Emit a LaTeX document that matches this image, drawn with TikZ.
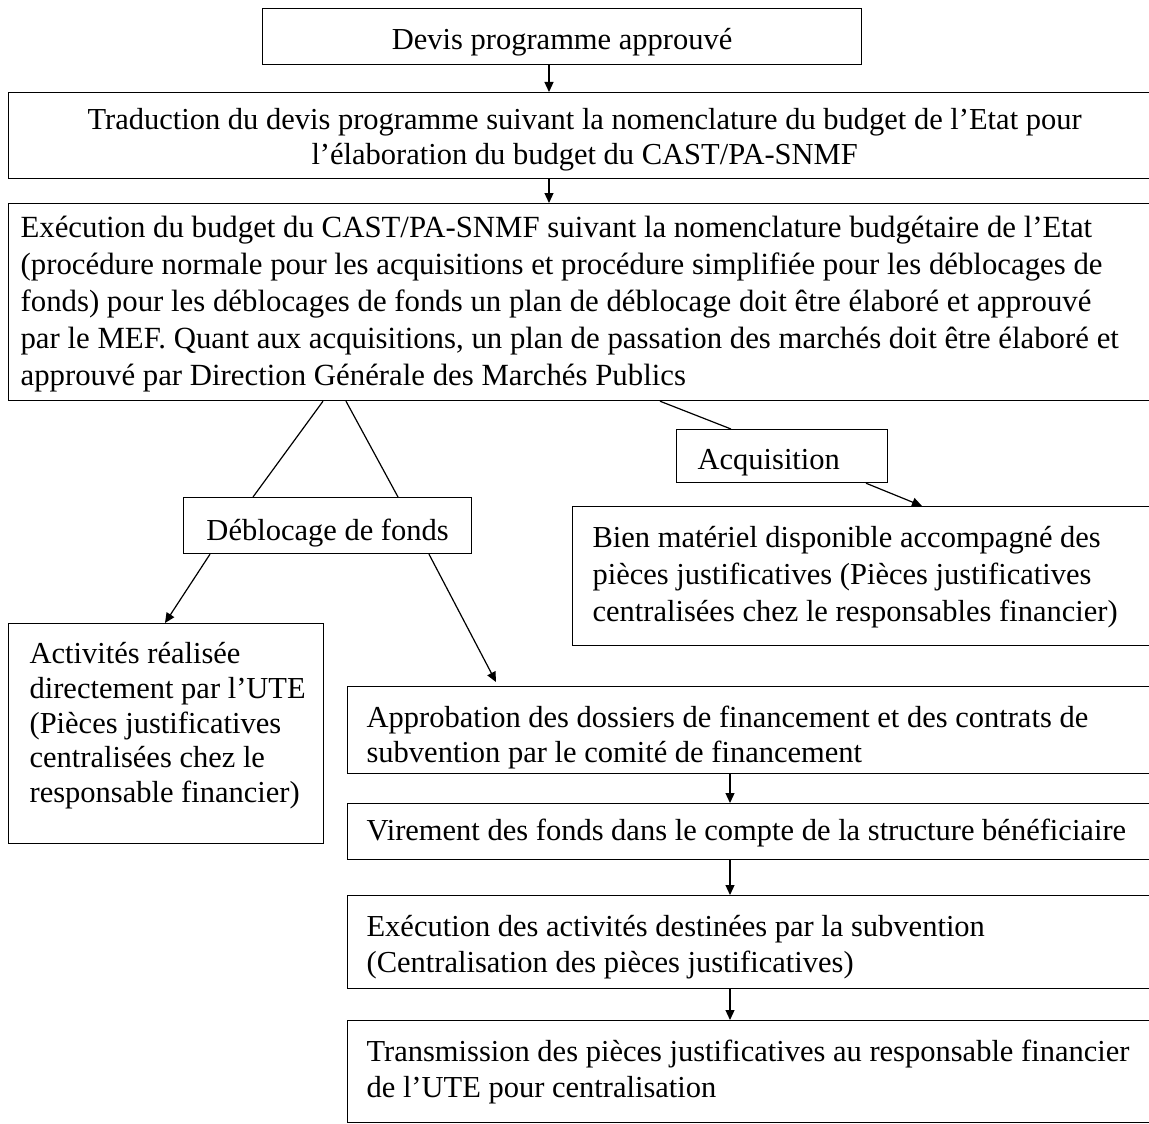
\documentclass[tikz,border=0pt]{standalone}
\usepackage{fontspec}
\setmainfont{Liberation Serif}
\usetikzlibrary{arrows.meta}
\begin{document}
\begin{tikzpicture}[x=1pt,y=-1pt,
  box/.style={draw, line width=1.2pt, inner xsep=0pt, inner ysep=0pt, anchor=north west,
    align=flush left, font=\fontsize{30.5}{36}\selectfont},
  arr/.style={line width=1.2pt, -{Triangle[length=10pt,width=9pt]}},
  link/.style={line width=1.2pt}]
\useasboundingbox (0,0) rectangle (1149,1124);
\clip (0,0) rectangle (1149,1124);
\fill[white] (0,0) rectangle (1149,1124);

\node[box, minimum width=599pt, minimum height=56pt, align=center,
      text height=26pt, text depth=0pt] (b1) at (262,8)
  {Devis programme approuvé};
\node[box, minimum height=86pt, text width=1152pt, align=flush center,
      font=\fontsize{30.5}{35}\selectfont, text height=0pt, text depth=12pt] (b2) at (8,92)
  {Traduction du devis programme suivant la nomenclature du budget de l’Etat pour\\
   l’élaboration du budget du CAST/PA-SNMF};
\node[box, minimum height=197pt, text width=1200pt, inner xsep=12pt,
      font=\fontsize{30.8}{37}\selectfont, text height=0pt, text depth=129pt] (b3) at (8,203)
  {Exécution du budget du CAST/PA-SNMF suivant la nomenclature budgétaire de l’Etat\\
   (procédure normale pour les acquisitions et procédure simplifiée pour les déblocages de\\
   fonds) pour les déblocages de fonds un plan de déblocage doit être élaboré et approuvé\\
   par le MEF. Quant aux acquisitions, un plan de passation des marchés doit être élaboré et\\
   approuvé par Direction Générale des Marchés Publics};
\node[box, minimum width=288pt, minimum height=56pt, align=center,
      text height=30pt, text depth=0pt] (deb) at (183,497)
  {Déblocage de fonds};
\node[box, minimum height=53pt, text width=169pt, inner xsep=21pt,
      text height=27pt, text depth=0pt] (acq) at (676,429)
  {Acquisition};
\node[box, minimum height=139pt, text width=700pt, inner xsep=20pt,
      font=\fontsize{30.5}{37}\selectfont, text height=0pt, text depth=57pt] (bien) at (572,506)
  {Bien matériel disponible accompagné des\\
   pièces justificatives (Pièces justificatives\\
   centralisées chez le responsables financier)};
\node[box, minimum height=220pt, text width=273pt, inner xsep=21pt,
      font=\fontsize{30.5}{34.7}\selectfont, text height=0pt, text depth=140pt] (act) at (8,623)
  {Activités réalisée\\
   \mbox{directement par l’UTE}\\
   (Pièces justificatives\\
   centralisées chez le\\
   \mbox{responsable financier)}};
\node[box, minimum height=87pt, text width=900pt, inner xsep=19pt,
      font=\fontsize{30.5}{35}\selectfont, text height=0pt, text depth=5pt] (appr) at (347,686)
  {Approbation des dossiers de financement et des contrats de\\
   subvention par le comité de financement};
\node[box, minimum height=56pt, text width=900pt, inner xsep=19pt,
      text height=18pt, text depth=0pt] (vir) at (347,803)
  {Virement des fonds dans le compte de la structure bénéficiaire};
\node[box, minimum height=93pt, text width=900pt, inner xsep=19pt,
      text height=0pt, text depth=11pt] (exe) at (347,895)
  {Exécution des activités destinées par la subvention\\
   (Centralisation des pièces justificatives)};
\node[box, minimum height=102pt, text width=900pt, inner xsep=19pt,
      text height=0pt, text depth=20pt] (tra) at (347,1020)
  {Transmission des pièces justificatives au responsable financier\\
   de l’UTE pour centralisation};

\coordinate (ax1) at (549,0);
\coordinate (ax2) at (730,0);
\draw[arr] (b1.south -| ax1) -- (b2.north -| ax1);
\draw[arr] (b2.south -| ax1) -- (b3.north -| ax1);
\draw[link] ([xshift=315pt]b3.south west) -- ([xshift=70pt]deb.north west);
\draw[link] ([xshift=338pt]b3.south west) -- ([xshift=215pt]deb.north west);
\draw[link] ([xshift=652pt]b3.south west) -- ([xshift=55pt]acq.north west);
\draw[arr] ([xshift=190pt]acq.south west) -- ([xshift=350pt]bien.north west);
\draw[arr] ([xshift=27pt]deb.south west) -- ([xshift=157pt]act.north west);
\draw[arr] ([xshift=246pt]deb.south west) -- ([xshift=149pt,yshift=4pt]appr.north west);
\draw[arr] (appr.south -| ax2) -- (vir.north -| ax2);
\draw[arr] (vir.south -| ax2) -- (exe.north -| ax2);
\draw[arr] (exe.south -| ax2) -- (tra.north -| ax2);
\end{tikzpicture}
\end{document}
